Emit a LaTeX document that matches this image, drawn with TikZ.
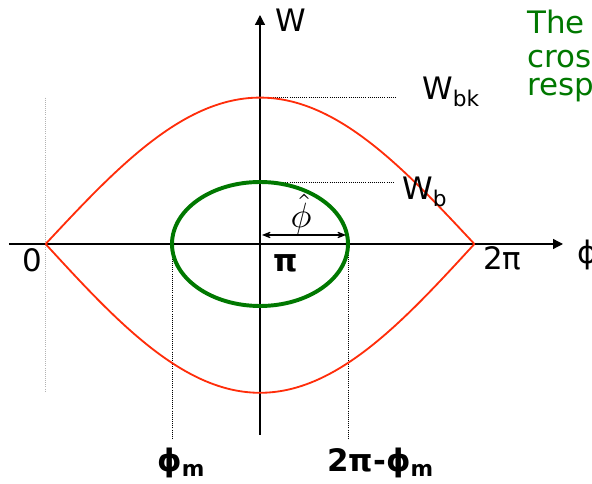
\documentclass[tikz,border=0pt]{standalone}
\usepackage{amsmath}
\usepackage{amssymb}
\usepackage{fontspec}
\setmainfont{DejaVu Sans}
\usetikzlibrary{calc,arrows.meta}
\definecolor{sepred}{RGB}{255,45,10}
\definecolor{bunchgreen}{RGB}{0,120,0}
\tikzset{hatTip/.tip={Stealth[length=10pt,width=8pt,inset=6.5pt]}}

\begin{document}
\begin{tikzpicture}[
  lbl/.style={font=\fontsize{22}{26}\selectfont,inner sep=0pt,anchor=base west},
  guide/.style={densely dotted,line width=0.5pt}]
  \useasboundingbox (-6.5,-6.0) rectangle (8.3,6.1);
  \coordinate (O) at (0,0);
  \coordinate (Xs) at (-6.275,0);
  \coordinate (Xe) at (7.575,0);
  \coordinate (Ys) at (0,-4.775);
  \coordinate (Ye) at (0,5.725);
  \coordinate (T) at (0,3.66);
  \coordinate (Tend) at (3.375,3.66);
  \coordinate (Eb) at (0,1.55);
  \coordinate (Ebend) at (3.35,1.55);
  \coordinate (Ltop) at (-5.36,3.66);
  \coordinate (Lbot) at (-5.36,-3.72);
  \coordinate (El) at (-2.2,0);
  \coordinate (Er) at (2.2,0);
  \coordinate (Elm) at (-2.2,-4.9);
  \coordinate (Erm) at (2.2,-4.9);
  \coordinate (Ha) at (0.05,0.225);
  \coordinate (Hb) at (2.15,0.225);
  % guides
  \draw[guide,gray!60] (Ltop)--(Lbot);
  \draw[guide] (T)--(Tend);
  \draw[guide] (Eb)--(Ebend);
  \draw[guide] (El)--(Elm);
  \draw[guide] (Er)--(Erm);
  % axes
  \draw[line width=0.9pt,-{Triangle[length=7pt,width=7pt]}] (Xs)--(Xe);
  \draw[line width=0.9pt,-{Triangle[length=7pt,width=7pt]}] (Ys)--(Ye);
  % separatrix
  \draw[sepred,line width=1.3pt] plot[domain=-5.36:5.36,samples=90,smooth] (\x,{3.66*cos(\x/5.36*90)});
  \draw[sepred,line width=1.3pt] plot[domain=-5.36:5.36,samples=90,smooth] (\x,{-3.72*cos(\x/5.36*90)});
  % bunch
  \draw[bunchgreen,line width=2.8pt] (O) ellipse [x radius=2.2,y radius=1.55];
  \draw[line width=0.8pt,hatTip-hatTip] (Ha)--(Hb);
  \node[anchor=center,scale=2.5] (labHat) at (1.03,0.75) {$\hat{\phi}$};
  % labels
  \node[lbl] (labW) at (0.375,5.3) {W};
  \node[lbl] (labWbk) at (4.05,3.6) {W\textsubscript{bk}};
  \node[lbl] (labWb) at (3.55,1.1) {W\textsubscript{b}};
  \node[lbl] (labZero) at (-5.95,-0.7) {0};
  \node[lbl] (labPi) at (0.325,-0.7) {\bfseries π};
  \node[lbl] (labTwoPi) at (5.575,-0.65) {2π};
  \node[lbl,anchor=west] (labPhi) at (7.925,-0.275) {ϕ};
  \node[lbl] (labPhim) at (-2.575,-5.7) {\bfseries ϕ\textsubscript{m}};
  \node[lbl] (labPhiTwo) at (1.675,-5.7) {\bfseries 2π-ϕ\textsubscript{m}};
  % note, cut at the right edge
  \node[lbl,text=bunchgreen] (noteA) at (6.675,5.25) {The};
  \node[lbl,text=bunchgreen] (noteB) at (6.675,4.4) {cross};
  \node[lbl,text=bunchgreen] (noteC) at (6.675,3.7) {resp};
\end{tikzpicture}
\end{document}
